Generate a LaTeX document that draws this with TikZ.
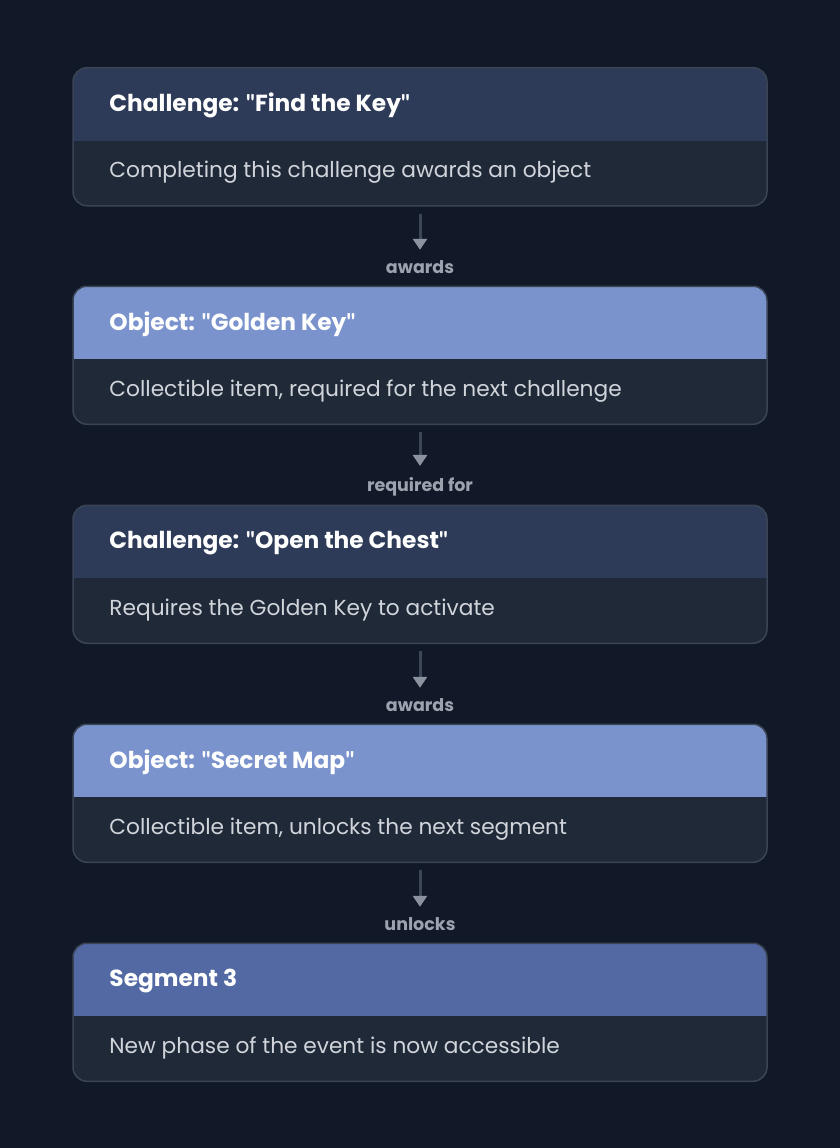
\documentclass[tikz,border=0pt]{standalone}
\usepackage{fontspec}
\setmainfont{Poppins}
\newfontfamily\qfont{Lato}
\usetikzlibrary{arrows.meta}
\newcommand\dq{{\qfont\symbol{34}}}
\definecolor{bg}{HTML}{111827}
\definecolor{bodyc}{HTML}{1F2937}
\definecolor{borderc}{HTML}{3A4455}
\definecolor{hchal}{HTML}{2D3B58}
\definecolor{hobj}{HTML}{7B93CC}
\definecolor{hseg}{HTML}{5369A3}
\definecolor{shaftc}{HTML}{3D4657}
\definecolor{headc}{HTML}{8B93A1}
\definecolor{labelc}{HTML}{9CA3AF}
\definecolor{textc}{HTML}{D1D5DB}
\tikzset{
  card/.style={draw=borderc, line width=1.5pt, fill=bodyc, rounded corners=14pt,
    minimum width=694pt, minimum height=138pt, inner sep=0pt, anchor=north,
    path picture={\fill[#1, sharp corners] (path picture bounding box.north west) rectangle ([yshift=-73pt]path picture bounding box.north east);}},
  ttl/.style={anchor=west, text=white, font=\fontsize{23.3}{27}\selectfont\bfseries, inner sep=0pt},
  desc/.style={anchor=west, text=textc, font=\fontsize{21.7}{25}\selectfont, inner sep=0pt},
  lbl/.style={text=labelc, font=\fontsize{17.5}{20}\selectfont\bfseries, inner sep=0pt},
  conn/.style={line width=3pt, color=shaftc, -{Triangle[width=14pt,length=11pt,color=headc]}, shorten <=7pt, shorten >=11pt}
}
\begin{document}
\begin{tikzpicture}[x=1pt,y=-1pt]
\fill[bg] (0,0) rectangle (840,1148);
\useasboundingbox (0,0) rectangle (840,1148);
% cards
\node[card=hchal] (b1) at (420,67) {};
\node[card=hobj]  (b2) at (420,285.5) {};
\node[card=hchal] (b3) at (420,504.5) {};
\node[card=hobj]  (b4) at (420,723.5) {};
\node[card=hseg]  (b5) at (420,942.5) {};
% titles and descriptions
\node[ttl]  (t1) at ([xshift=37pt,yshift=-38.5pt]b1.north west) {Challenge: \dq Find the Key\dq};
\node[desc] (d1) at ([xshift=37pt,yshift=-105.5pt]b1.north west) {Completing this challenge awards an object};
\node[ttl]  (t2) at ([xshift=37pt,yshift=-38.5pt]b2.north west) {Object: \dq Golden Key\dq};
\node[desc] (d2) at ([xshift=37pt,yshift=-105.5pt]b2.north west) {Collectible item, required for the next challenge};
\node[ttl]  (t3) at ([xshift=37pt,yshift=-38.5pt]b3.north west) {Challenge: \dq Open the Chest\dq};
\node[desc] (d3) at ([xshift=37pt,yshift=-105.5pt]b3.north west) {Requires the Golden Key to activate};
\node[ttl]  (t4) at ([xshift=37pt,yshift=-38.5pt]b4.north west) {Object: \dq Secret Map\dq};
\node[desc] (d4) at ([xshift=37pt,yshift=-105.5pt]b4.north west) {Collectible item, unlocks the next segment};
\node[ttl]  (t5) at ([xshift=37pt,yshift=-38.5pt]b5.north west) {Segment 3};
\node[desc] (d5) at ([xshift=37pt,yshift=-105.5pt]b5.north west) {New phase of the event is now accessible};
% labels
\node[lbl] (l1) at ([yshift=18pt]b2.north) {awards};
\node[lbl] (l2) at ([yshift=18pt]b3.north) {required for};
\node[lbl] (l3) at ([yshift=18pt]b4.north) {awards};
\node[lbl] (l4) at ([yshift=18pt]b5.north) {unlocks};
% connectors
\draw[conn] (b1.south) -- (l1.north);
\draw[conn] (b2.south) -- (l2.north);
\draw[conn] (b3.south) -- (l3.north);
\draw[conn] (b4.south) -- (l4.north);
\end{tikzpicture}
\end{document}
